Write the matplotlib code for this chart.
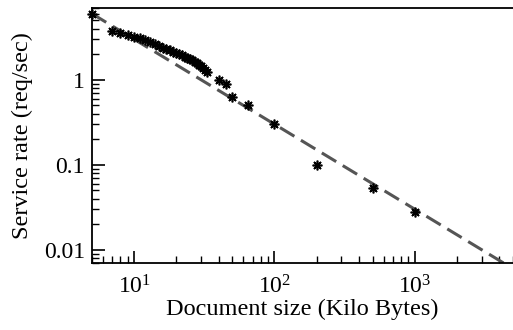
import numpy as np
import matplotlib
matplotlib.use('Agg')
import matplotlib.pyplot as plt
from matplotlib.ticker import LogLocator, LogFormatterMathtext, FixedLocator, FixedFormatter, NullFormatter

plt.rcParams['font.family'] = 'Liberation Serif'
plt.rcParams['mathtext.fontset'] = 'custom'
plt.rcParams['mathtext.rm'] = 'Liberation Serif'
plt.rcParams['mathtext.it'] = 'Liberation Serif'

# measured points: document size (KB) vs service rate (req/sec)
doc_size = [5, 7, 8, 9, 10, 11, 12, 13, 14, 15, 16, 17, 18, 19, 20, 21, 22,
            23, 24, 25, 26, 27, 28, 29, 30, 31, 32, 33,
            40, 45, 50, 65, 100, 200, 500, 1000]
rate = [5.9, 3.75, 3.55, 3.35, 3.2, 3.07, 2.95, 2.8, 2.65, 2.51, 2.38, 2.32, 2.25,
        2.13, 2.08, 2.02, 1.97, 1.86, 1.81, 1.77, 1.72, 1.63, 1.58, 1.50, 1.46,
        1.38, 1.31, 1.24,
        1.0, 0.89, 0.62, 0.50, 0.30, 0.10, 0.054, 0.028]

# fitted power law (dashed)
fit_x = [5, 5000]
fit_y = [6.0, 0.006]

fig = plt.figure(figsize=(5.13, 3.30), dpi=100)
ax = fig.add_axes([0.179, 0.203, 0.821, 0.773])

ax.plot(fit_x, fit_y, color='#555555', lw=2.2, dashes=(5.5, 2.5), zorder=2)
ax.plot(doc_size, rate, ls='none', marker=(8, 2, 0), ms=7, mew=1.2,
        color='black', zorder=3, clip_on=False)

ax.set_xscale('log')
ax.set_yscale('log')
ax.set_xlim(5, 5000)
ax.set_ylim(0.007, 7)

ax.xaxis.set_major_locator(FixedLocator([10, 100, 1000]))
ax.xaxis.set_major_formatter(LogFormatterMathtext())
ax.xaxis.set_minor_locator(LogLocator(base=10, subs=np.arange(2, 10), numticks=20))
ax.xaxis.set_minor_formatter(NullFormatter())
ax.yaxis.set_major_locator(FixedLocator([0.01, 0.1, 1]))
ax.yaxis.set_major_formatter(FixedFormatter(['0.01', '0.1', '1']))
ax.yaxis.set_minor_locator(LogLocator(base=10, subs=np.arange(2, 10), numticks=20))
ax.yaxis.set_minor_formatter(NullFormatter())

ax.tick_params(which='major', direction='in', length=9, width=1.2, labelsize=17)
ax.tick_params(which='minor', direction='in', length=5, width=1.0)
ax.tick_params(axis='x', pad=9)
ax.tick_params(axis='y', pad=5)

ax.spines['right'].set_visible(False)
for s in ['left', 'bottom', 'top']:
    ax.spines[s].set_linewidth(1.3)

ax.set_xlabel('Document size (Kilo Bytes)', fontsize=17.5, labelpad=0)
ax.set_ylabel('Service rate (req/sec)', fontsize=17.5, labelpad=8)

fig.savefig('out.png', dpi=100)
